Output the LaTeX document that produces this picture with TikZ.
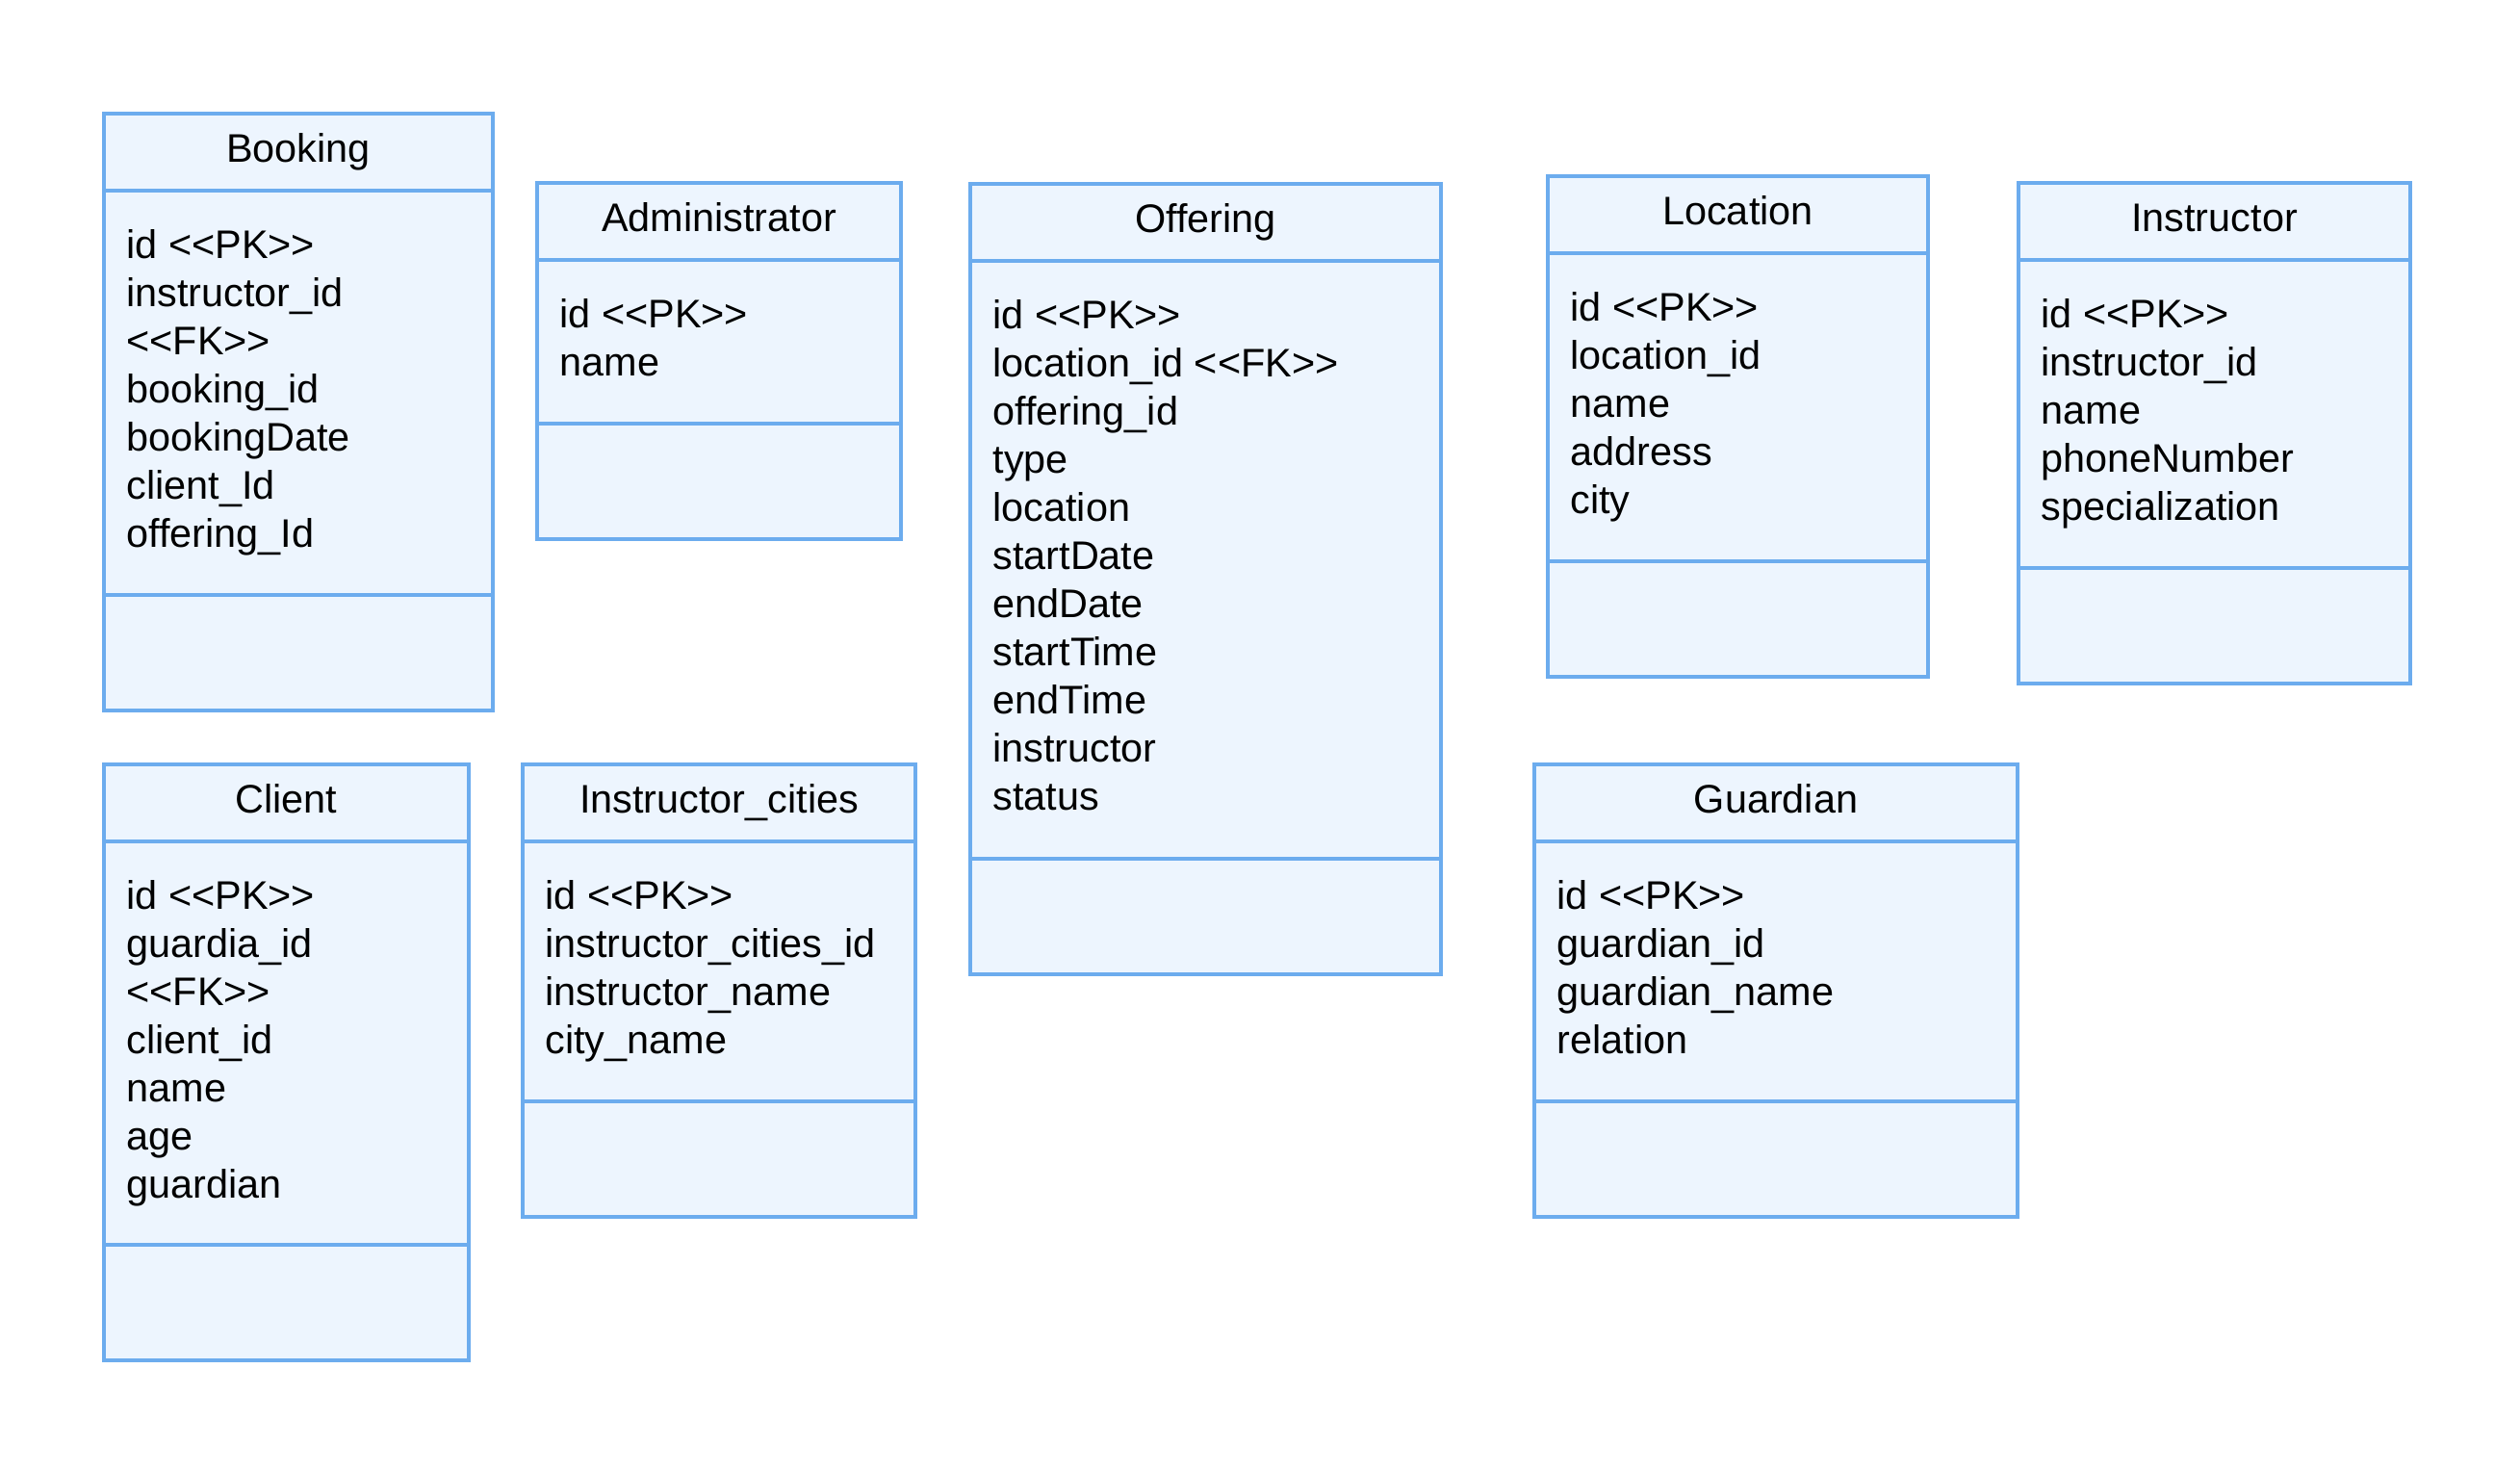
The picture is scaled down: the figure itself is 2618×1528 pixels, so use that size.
\documentclass[tikz,border=0pt]{standalone}
\usepackage{fontspec}
\setmainfont{Liberation Sans}
\definecolor{boxline}{HTML}{6CACEE}
\definecolor{boxfill}{HTML}{EDF5FE}
\newcommand\ltlt{<\kern0pt<}
\newcommand\gtgt{>\kern0pt>}
\tikzset{
  compart/.style={draw=boxline, fill=boxfill, line width=1.6pt, inner sep=0pt, outer sep=0pt, rectangle},
  umltext/.style={inner sep=0pt, outer sep=0pt, font=\fontsize{20.7pt}{25pt}\selectfont, text=black}
}
% #1 name, #2 left, #3 right, #4 top, #5 separator (attributes/operations), #6 title, #7 attributes
\newcommand\umlclass[7]{%
  \node[compart, minimum width={(#3-#2)*0.5pt}, minimum height=40pt, anchor=north west] (#1-head) at (#2,#4) {};
  \node[compart, minimum width={(#3-#2)*0.5pt}, minimum height={(#5-#4-80)*0.5pt}, anchor=north west] (#1-attr) at (#2,#4+80) {};
  \node[compart, minimum width={(#3-#2)*0.5pt}, minimum height=60pt, anchor=north west] (#1-ops) at (#2,#5) {};
  \node[umltext, anchor=base] (#1-name) at ({(#2+#3)/2},#4+50) {#6};
  \foreach \t [count=\i from 0] in {#7}
    \node[umltext, anchor=base west] (#1-a\i) at (#2+23.5,#4+150.5+50*\i) {\t};
}
\begin{document}
\begin{tikzpicture}[x=0.5pt,y=-0.5pt]
\useasboundingbox (0,0) rectangle (2618,1528);
\fill[white] (0,0) rectangle (2618,1528);
\umlclass{booking}{108}{512}{118}{618}{Booking}{id \ltlt PK\gtgt,instructor\_id,\ltlt FK\gtgt,booking\_id,bookingDate,client\_Id,offering\_Id}
\umlclass{admin}{558}{936}{190}{440}{Administrator}{id \ltlt PK\gtgt,name}
\umlclass{offering}{1008}{1497}{191}{892}{Offering}{id \ltlt PK\gtgt,location\_id \ltlt FK\gtgt,offering\_id,type,location,startDate,endDate,startTime,endTime,instructor,status}
\umlclass{location}{1608}{2003}{183}{583}{Location}{id \ltlt PK\gtgt,location\_id,name,address,city}
\umlclass{instructor}{2097}{2504}{190}{590}{Instructor}{id \ltlt PK\gtgt,instructor\_id,name,phoneNumber,specialization}
\umlclass{client}{108}{487}{794}{1293}{Client}{id \ltlt PK\gtgt,guardia\_id,\ltlt FK\gtgt,client\_id,name,age,guardian}
\umlclass{instcities}{543}{951}{794}{1144}{Instructor\_cities}{id \ltlt PK\gtgt,instructor\_cities\_id,instructor\_name,city\_name}
\umlclass{guardian}{1594}{2096}{794}{1144}{Guardian}{id \ltlt PK\gtgt,guardian\_id,guardian\_name,relation}
\end{tikzpicture}
\end{document}
